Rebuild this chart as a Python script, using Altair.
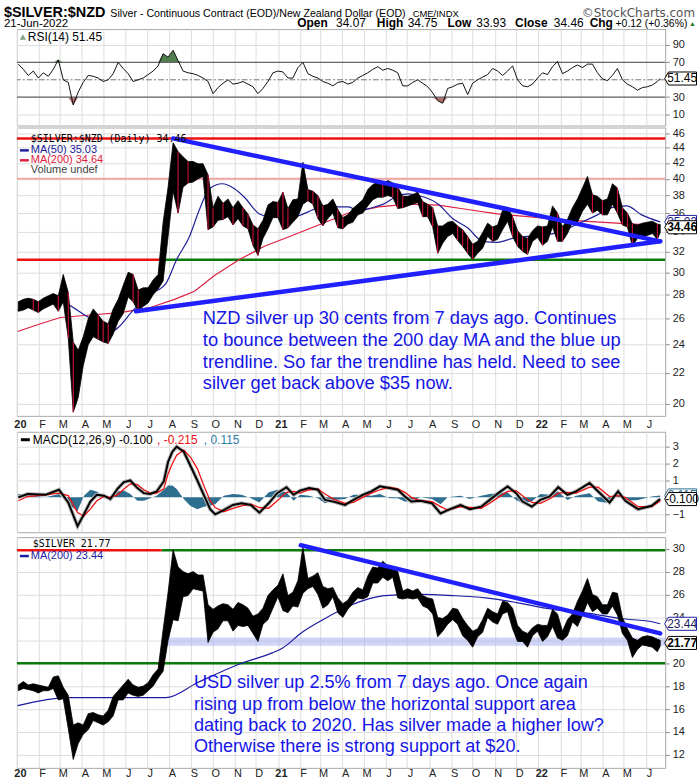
import altair as alt
import pandas as pd

W = 652
H_RSI, H_MAIN, H_MACD, H_USD = 97, 290, 101, 232
FONT = "Liberation Sans"
MONO = "DejaVu Sans Mono"
BLUE_TXT = "#1515e6"
TREND = "#2020ff"

# ---------------- data ----------------
week_dates = [d.strftime("%Y-%m-%d") for d in pd.date_range("2020-01-03", "2022-06-17", freq="W-FRI")] + ["2022-06-21"]

nzd_lo = [
    26.6, 26.7, 26.9, 26.7, 26.5,  26.8, 27.0, 27.2, 26.6,  27.4, 24.5, 19.5, 20.4,
    22.5, 24.0, 24.6, 24.4,  24.2, 24.1, 24.8, 25.8, 26.4,  27.8, 27.4, 26.6, 27.0,
    27.3, 28.0, 28.5, 29.2, 33.5,  38.5, 36.0, 39.0, 39.5,  39.6, 40.0, 40.3, 34.2,
    34.5, 35.2, 35.3, 35.6, 34.7,  35.4, 34.6, 34.3, 32.6,  31.6, 33.3, 34.3, 35.5,
    35.5, 34.2, 34.4, 35.0, 35.6,  37.0, 37.4, 37.0, 35.4,  34.6, 35.4, 36.0, 34.4,
    34.3, 34.8, 35.0, 35.8, 36.0,  36.8, 37.5, 37.8, 37.8,  38.0, 37.8, 36.5, 36.6,
    36.8, 37.0, 37.2, 35.6, 35.6,  34.5, 31.8, 32.8, 33.5,  33.8, 33.1, 32.5, 31.8,
    31.2, 31.8, 32.3, 33.5, 33.0,  33.2, 34.2, 35.1, 33.5,  32.5, 32.0, 31.7, 33.0, 33.4,
    32.6, 33.0, 34.5, 33.0,  33.0, 33.8, 35.0, 35.0,  36.2, 37.0, 36.0, 36.3,
    35.8, 35.8, 37.0, 36.0, 34.7,  34.5, 32.5, 33.3, 33.5,  33.6, 33.8, 33.2, 33.9,
]
nzd_hi = [
    27.4, 27.6, 27.7, 27.6, 27.4,  27.7, 27.9, 28.1, 27.9,  29.8, 28.2, 24.2, 23.6,
    24.6, 26.0, 26.8, 26.3,  25.8, 25.6, 26.8, 27.6, 28.8,  30.0, 29.8, 28.4, 28.6,
    28.6, 29.3, 29.8, 35.0, 39.0,  44.7, 43.5, 42.8, 42.2,  42.2, 41.9, 41.9, 40.5,
    36.6, 37.9, 37.1, 37.6, 36.6,  37.4, 36.6, 35.9, 34.7,  34.3, 35.2, 36.9, 37.3,
    37.2, 38.4, 36.5, 37.5, 37.6,  42.1, 38.7, 38.5, 38.0,  36.8, 37.0, 37.6, 36.4,
    35.5, 35.8, 36.5, 37.0, 37.5,  38.7, 39.3, 39.6, 39.3,  39.8, 39.5, 39.0, 37.9,
    37.9, 38.1, 38.4, 37.3, 37.0,  36.6, 34.6, 34.6, 35.0,  35.1, 34.6, 34.2, 33.5,
    32.7, 33.0, 33.9, 34.9, 34.5,  34.7, 36.3, 36.6, 35.6,  34.1, 33.5, 33.3, 34.1, 34.6,
    34.5, 34.6, 36.8, 36.0,  34.5, 35.3, 36.6, 37.6,  38.9, 40.3, 38.1, 37.9,
    37.4, 37.6, 39.4, 38.9, 36.6,  36.0, 34.8, 34.7, 34.9,  35.0, 35.1, 34.8, 34.75,
]
usd_lo = [
    17.6, 17.8, 17.7, 17.6, 17.4,  17.6, 17.6, 17.8, 16.8,  16.9, 14.3, 11.6, 13.0,
    13.8, 14.2, 15.0, 14.8,  14.6, 14.9, 15.4, 16.8, 16.8,  17.4, 17.2, 17.1, 17.2,
    17.6, 18.0, 18.7, 19.3, 22.0,  23.8, 23.7, 25.8, 25.9,  26.5, 26.4, 26.3, 21.8,
    22.7, 23.0, 23.7, 23.7, 22.8,  23.3, 23.2, 23.3, 22.6,  21.9, 23.4, 23.8, 24.8,
    25.8, 24.6, 24.4, 25.0, 24.9,  26.1, 26.5, 26.7, 26.0,  24.8, 25.1, 25.8, 24.4,
    24.0, 24.7, 25.2, 25.7, 25.6,  25.8, 27.0, 27.0, 27.5,  27.2, 27.5, 25.7, 25.6,
    25.7, 25.6, 25.7, 25.0, 24.8,  24.3, 22.3, 22.8, 23.4,  23.8, 23.4, 22.4, 22.0,
    21.4, 22.3, 22.7, 24.0, 23.6,  23.4, 24.3, 24.5, 23.0,  21.9, 21.9, 21.4, 22.4, 22.8,
    21.9, 22.3, 23.2, 22.2,  22.0, 22.4, 23.6, 23.2,  24.2, 25.3, 24.5, 24.8,
    24.3, 24.3, 25.0, 24.2, 22.6,  22.0, 20.5, 21.2, 21.6,  21.5, 21.4, 21.0, 21.5,
]
usd_hi = [
    18.1, 18.4, 18.1, 18.2, 18.1,  18.0, 17.9, 18.8, 18.9,  17.9, 17.2, 14.6, 14.8,
    14.6, 15.6, 15.7, 15.5,  15.4, 15.9, 17.1, 17.6, 18.1,  18.6, 18.1, 17.9, 18.0,
    18.3, 19.0, 19.5, 22.9, 26.2,  29.9, 28.4, 28.0, 27.8,  28.0, 27.7, 27.7, 25.1,
    24.7, 25.0, 25.2, 25.1, 24.7,  25.3, 25.1, 24.8, 24.1,  24.3, 24.8, 25.9, 26.4,
    26.8, 27.8, 25.9, 26.2, 27.2,  30.1, 27.4, 27.6, 27.9,  26.7, 26.5, 26.6, 25.7,
    25.2, 25.5, 26.2, 26.6, 26.4,  27.6, 28.4, 28.3, 28.9,  28.5, 28.2, 28.0, 26.3,
    26.5, 26.3, 26.5, 25.9, 25.7,  25.6, 24.0, 23.9, 24.2,  24.8, 24.7, 23.9, 23.3,
    22.8, 23.0, 23.8, 24.8, 24.5,  24.3, 25.4, 25.3, 24.8,  23.3, 22.8, 22.6, 23.1, 23.4,
    23.3, 23.3, 24.7, 24.3,  22.8, 23.8, 24.3, 25.4,  26.3, 27.4, 26.0, 25.8,
    25.1, 25.1, 26.2, 26.1, 24.0,  23.0, 22.2, 22.0, 22.3,  22.4, 22.3, 22.1, 22.0,
]
rsi = [
    68, 62, 55, 60, 52, 58, 54, 62, 73, 50,
    47, 21, 36, 47, 55, 54, 52, 48, 50, 57,
    70, 63, 57, 48, 50, 52, 56, 60, 66, 80,
    76, 84, 72, 60, 58, 57, 55, 52, 48, 34,
    41, 46, 50, 45, 46, 48, 45, 42, 34, 40,
    48, 58, 60, 59, 52, 52, 64, 70, 57, 54,
    52, 48, 46, 43, 47, 48, 45, 47, 52, 55,
    58, 62, 65, 61, 63, 61, 58, 43, 43, 47,
    50, 46, 42, 35, 26, 23, 40, 42, 45, 46,
    33, 46, 50, 53, 56, 63, 60, 55, 60, 66,
    50, 43, 42, 45, 52, 58, 56, 65, 71, 57,
    60, 64, 67, 64, 68, 68, 58, 51, 49, 55,
    63, 50, 45, 42, 38, 41, 42, 44, 48, 51.45,
]

ma50_dates = ["2020-01-02", "2020-02-28", "2020-04-08", "2020-05-11", "2020-06-14", "2020-07-05",
              "2020-07-28", "2020-08-12", "2020-08-30", "2020-09-13", "2020-09-27", "2020-10-15",
              "2020-11-01", "2020-11-15", "2020-12-06", "2020-12-20", "2021-01-16", "2021-01-30",
              "2021-02-20", "2021-03-06", "2021-03-27", "2021-04-10", "2021-04-24", "2021-05-08",
              "2021-05-29", "2021-06-19", "2021-07-03", "2021-07-17", "2021-08-14", "2021-09-03",
              "2021-09-24", "2021-10-15", "2021-11-05", "2021-11-26", "2021-12-17", "2022-01-07",
              "2022-01-28", "2022-02-25", "2022-03-25", "2022-04-14", "2022-05-05", "2022-05-26",
              "2022-06-21"]
ma50_vals = [26.7, 27.4, 26.2, 25.0, 26.8, 28.0, 29.0, 31.2, 33.5, 36.4, 38.8, 39.4,
             38.8, 37.8, 35.9, 35.6, 35.5, 35.7, 36.4, 36.8, 36.7, 36.7, 36.2, 36.5,
             37.0, 38.0, 38.2, 38.0, 37.0, 35.4, 34.4, 33.0, 32.9, 33.3, 33.5, 33.6,
             33.9, 34.8, 35.8, 36.6, 36.8, 35.8, 35.03]

ma200_dates = ["2020-01-02", "2020-02-03", "2020-03-02", "2020-04-13", "2020-05-25", "2020-07-05",
               "2020-08-09", "2020-09-06", "2020-10-04", "2020-11-08", "2020-12-13", "2021-01-21",
               "2021-02-27", "2021-04-10", "2021-05-22", "2021-07-03", "2021-08-14", "2021-09-24",
               "2021-11-05", "2021-12-17", "2022-01-28", "2022-03-11", "2022-04-21", "2022-06-21"]
ma200_vals = [25.0, 25.6, 26.1, 26.3, 26.5, 26.9, 27.6, 28.3, 29.7, 31.2, 32.5, 33.6,
              34.7, 36.0, 36.7, 37.0, 36.9, 36.4, 35.9, 35.6, 35.3, 35.1, 34.9, 34.64]

usd_ma_dates = ["2020-01-02", "2020-03-12", "2020-05-25", "2020-07-28", "2020-09-10", "2020-11-11",
                "2020-12-24", "2021-01-07", "2021-02-04", "2021-03-05", "2021-04-15", "2021-05-13",
                "2021-05-31", "2021-07-19", "2021-09-03", "2021-10-19", "2021-11-22", "2022-01-22",
                "2022-03-09", "2022-04-26", "2022-06-11", "2022-06-21"]
usd_ma_vals = [16.3, 17.0, 17.0, 17.0, 18.3, 20.0, 20.9, 21.3, 22.7, 23.8, 25.1, 25.7,
               25.9, 26.0, 25.9, 25.7, 25.4, 24.7, 24.4, 23.9, 23.6, 23.44]

macd_dates = ["2020-01-03", "2020-01-16", "2020-02-10", "2020-02-29", "2020-03-13", "2020-03-26",
              "2020-04-04", "2020-04-13", "2020-04-22", "2020-05-02", "2020-05-11", "2020-05-21",
              "2020-05-30", "2020-06-08", "2020-06-18", "2020-06-27", "2020-07-06", "2020-07-15",
              "2020-07-25", "2020-07-31", "2020-08-06", "2020-08-12", "2020-08-22", "2020-08-31",
              "2020-09-10", "2020-09-19", "2020-09-28", "2020-10-05", "2020-10-17", "2020-10-30",
              "2020-11-11", "2020-11-24", "2020-12-06", "2020-12-19", "2020-12-31", "2021-01-13",
              "2021-01-23", "2021-02-01", "2021-02-14", "2021-02-26", "2021-03-08", "2021-03-20",
              "2021-04-05", "2021-04-17", "2021-04-30", "2021-05-12", "2021-05-24", "2021-06-06",
              "2021-06-18", "2021-06-28", "2021-07-07", "2021-07-20", "2021-08-05", "2021-08-17",
              "2021-08-27", "2021-09-14", "2021-09-27", "2021-10-13", "2021-10-25", "2021-11-06",
              "2021-11-19", "2021-12-01", "2021-12-10", "2021-12-23", "2022-01-04", "2022-01-17",
              "2022-01-29", "2022-02-11", "2022-02-23", "2022-03-14", "2022-03-26", "2022-04-11",
              "2022-04-23", "2022-05-03", "2022-05-21", "2022-06-09", "2022-06-21"]
macd_vals = [0.00, 0.20, 0.15, 0.45, -0.30, -1.70, -1.00, -0.25, 0.15, 0.10, -0.10, 0.50,
             0.90, 1.00, 0.55, 0.25, 0.20, 0.35, 0.95, 2.10, 2.70, 3.00, 2.70, 1.90,
             1.00, 0.15, -0.70, -1.00, -0.75, -0.45, -0.35, -0.45, -0.90, -0.35, 0.25, 0.60,
             0.15, 0.40, 0.55, 0.45, -0.15, -0.25, -0.45, -0.15, 0.15, 0.35, 0.65, 0.55,
             0.45, 0.05, -0.25, -0.20, -0.35, -0.95, -0.75, -0.45, -0.70, -0.55, -0.15, 0.25,
             0.65, 0.25, -0.25, -0.55, -0.15, 0.05, 0.60, 0.15, 0.35, 0.85, 0.35, -0.30,
             0.35, -0.20, -0.70, -0.50, -0.10]
signal_vals = [-0.20, 0.05, 0.15, 0.25, 0.10, -0.90, -1.10, -0.70, -0.20, 0.05, 0.00, 0.15,
               0.50, 0.80, 0.75, 0.45, 0.25, 0.25, 0.50, 1.40, 2.00, 2.50, 2.80, 2.40,
               1.70, 0.70, -0.20, -0.60, -0.85, -0.65, -0.50, -0.40, -0.60, -0.65, -0.20, 0.30,
               0.35, 0.25, 0.45, 0.50, 0.20, -0.10, -0.35, -0.30, 0.00, 0.25, 0.45, 0.60,
               0.50, 0.30, 0.00, -0.20, -0.25, -0.55, -0.75, -0.55, -0.60, -0.65, -0.35, 0.00,
               0.35, 0.40, 0.10, -0.30, -0.35, -0.10, 0.25, 0.30, 0.25, 0.60, 0.60, 0.05,
               0.10, 0.00, -0.55, -0.55, -0.215]

# annotation lines (dates, values)
nzd_top_red = 45.3
nzd_pink = 40.0
nzd_support = 31.18
split_date = "2020-07-22"
nzd_down_trend = {"date": ["2020-08-07", "2022-06-21"], "v": [45.3, 33.0]}
nzd_up_trend = {"date": ["2020-06-16", "2022-06-21"], "v": [26.6, 33.0]}
usd_top = 29.85
usd_green = 20.0
usd_trend = {"date": ["2021-02-02", "2022-06-21"], "v": [30.3, 22.6]}
usd_band = {"d1": ["2020-07-22"], "d2": ["2022-06-28"], "lo": [21.53], "hi": [22.25]}

nzd_note = ["NZD silver up 30 cents from 7 days ago. Continues",
            "to bounce between the 200 day MA and the blue up",
            "trendline. So far the trendline has held. Need to see",
            "silver get back above $35 now."]
usd_note = ["USD silver up 2.5% from 7 days ago. Once again",
            "rising up from below the horizontal support area",
            "dating back to 2020. Has silver made a higher low?",
            "Otherwise there is strong support at $20."]

# ---------------- helpers ----------------
one = pd.DataFrame({"k": [0]})
D0 = alt.DateTime(year=2020, month=1, date=1, utc=True)
D1 = alt.DateTime(year=2022, month=6, date=28, utc=True)
x_scale = alt.Scale(type="utc", domain=[D0, D1])
month_ticks = [alt.DateTime(year=y, month=m, date=1, utc=True)
               for y in (2020, 2021, 2022) for m in range(1, 13) if not (y == 2022 and m > 6)]
LABEL_EXPR = ("utcmonth(datum.value) == 0 ? utcFormat(datum.value, '%y') : "
              "substring(utcFormat(datum.value, '%b'), 0, 1)")


def x_axis(labels, pad=4):
    if labels:
        return alt.Axis(values=month_ticks, grid=True, gridColor="#dddddd", ticks=False, tickSize=0,
                        domain=False, title=None, labelExpr=LABEL_EXPR,
                        labelFontWeight={"condition": {"test": "utcmonth(datum.value) == 0", "value": "bold"},
                                         "value": "normal"},
                        labelFont=FONT, labelFontSize=11, labelColor="#222222", labelPadding=pad,
                        labelOffset=3, labelOverlap=False, labelFlush=False, labelAngle=0)
    return alt.Axis(values=month_ticks, grid=True, gridColor="#dddddd", ticks=False, tickSize=0,
                    domain=False, labels=False, title=None)


def y_axis(values):
    return alt.Axis(orient="right", values=values, grid=True, gridColor="#dddddd", tickSize=4,
                    tickColor="#888888", domain=False, title=None, labelFont=FONT, labelFontSize=11,
                    labelColor="#222222", labelPadding=3, format="d", labelOverlap=False)


def txt(text, x, y, size=11, weight="normal", color="#000000", font=FONT, align="left",
        baseline="middle", **kw):
    return alt.Chart(one).mark_text(text=text, fontSize=size, fontWeight=weight, color=color, font=font,
                                    align=align, baseline=baseline, **kw).encode(
        x=alt.value(x), y=alt.value(y))


def dash(x1, x2, y, color, width=2.5):
    return alt.Chart(one).mark_rule(color=color, strokeWidth=width).encode(
        x=alt.value(x1), x2=alt.value(x2), y=alt.value(y))


def anchor(y=0):
    return alt.Chart(one).mark_rule(color="white", strokeWidth=1).encode(
        x=alt.value(-16), x2=alt.value(-15), y=alt.value(y))


BOX = "M-1,0L-0.76,-0.41L1,-0.41L1,0.41L-0.76,0.41Z"


def valbox(value, text, Yf, stroke="#000000", color="#000000", weight="normal"):
    d = pd.DataFrame({"v": [value]})
    b = alt.Chart(d).mark_point(shape=BOX, size=1024, filled=True, fill="white", stroke=stroke,
                                strokeWidth=1, opacity=1).encode(x=alt.value(W + 15.5), y=Yf("v"))
    t = alt.Chart(d).mark_text(text=text, fontSize=12, font=FONT, fontWeight=weight, color=color,
                               align="center", baseline="middle").encode(x=alt.value(W + 17), y=Yf("v"))
    return [b, t]


# ---------------- RSI panel (with page header above it) ----------------
ys_rsi = alt.Scale(domain=[-2.6, 108.3], nice=False, zero=False)
ya_rsi = y_axis([10, 30, 70, 90])
xa_rsi = x_axis(False)
def XR(f="date"): return alt.X(f + ":T", scale=x_scale, axis=xa_rsi)
def YR(f): return alt.Y(f + ":Q", scale=ys_rsi, axis=ya_rsi)

rsi_df = pd.DataFrame({"date": week_dates, "rsi": rsi})
rsi_up = alt.Chart(rsi_df).transform_calculate(a="max(datum.rsi, 70)", b="70").mark_area(
    color="#4f7f4f").encode(x=XR(), y=YR("a"), y2=alt.Y2("b:Q"))
rsi_dn = alt.Chart(rsi_df).transform_calculate(a="min(datum.rsi, 30)", b="30").mark_area(
    color="#b07070").encode(x=XR(), y=YR("a"), y2=alt.Y2("b:Q"))
rsi_lines = alt.Chart(pd.DataFrame({"v": [70, 30]})).mark_rule(color="#666666", strokeWidth=1.2).encode(y=YR("v"))
rsi_mid = alt.Chart(pd.DataFrame({"v": [50]})).mark_rule(color="#777777", strokeWidth=1,
                                                          strokeDash=[6, 2, 2, 2]).encode(y=YR("v"))
rsi_line = alt.Chart(rsi_df).mark_line(color="#111111", strokeWidth=1).encode(x=XR(), y=YR("rsi"))

HB = "alphabetic"
header = [
    anchor(-26),
    txt("$SILVER:$NZD", -13, -12, size=14.5, weight="bold", baseline=HB),
    txt("Silver - Continuous Contract (EOD)/New Zealand Dollar (EOD)", 94, -12, size=10.7, baseline=HB),
    txt("CME/INDX", 398, -12, size=9.5, baseline=HB),
    txt("\u00a9StockCharts.com", 682, -12, size=12, color="#555555", font="DejaVu Sans",
        align="right", baseline=HB),
    txt("21-Jun-2022", -13, -2, size=11.5, baseline=HB),
    txt("Open", 282, -2, size=12, weight="bold", baseline=HB),
    txt("34.07", 321, -2, size=12, baseline=HB),
    txt("High", 362, -2, size=12, weight="bold", baseline=HB),
    txt("34.75", 393, -2, size=12, baseline=HB),
    txt("Low", 433, -2, size=12, weight="bold", baseline=HB),
    txt("33.93", 462, -2, size=12, baseline=HB),
    txt("Close", 501, -2, size=12, weight="bold", baseline=HB),
    txt("34.46", 540, -2, size=12, baseline=HB),
    txt("Chg", 576, -2, size=12, weight="bold", baseline=HB),
    txt("+0.12 (+0.36%)", 602, -2, size=10.5, baseline=HB),
    txt("\u25b2", 676, -3, size=7, color="#2a7a2a", baseline=HB),
]
rsi_panel = alt.layer(
    rsi_up, rsi_dn, rsi_lines, rsi_mid, rsi_line,
    txt("RSI(14) 51.45", 11, 8, size=12),
    alt.Chart(one).mark_point(shape="triangle-up", filled=True, color="#4f7f4f", size=40).encode(
        x=alt.value(6), y=alt.value(8)),
    *valbox(51.45, "51.45", YR),
    *header,
).properties(width=W, height=H_RSI)

# ---------------- main NZD panel ----------------
ys_main = alt.Scale(type="log", domain=[19.28, 46.85], nice=False)
ya_main = y_axis(list(range(20, 47, 2)))
xa_main = x_axis(True, 3)
def XM(f="date"): return alt.X(f + ":T", scale=x_scale, axis=xa_main)
def YM(f): return alt.Y(f + ":Q", scale=ys_main, axis=ya_main)

nzd_df = pd.DataFrame({"date": week_dates, "lo": nzd_lo, "hi": nzd_hi})
main_pink = alt.Chart(pd.DataFrame({"v": [nzd_pink]})).mark_rule(color="#f2a6a6", strokeWidth=2).encode(y=YM("v"))
main_red = alt.Chart(pd.DataFrame({"v": [nzd_top_red]})).mark_rule(color="#ee1111", strokeWidth=2.5).encode(y=YM("v"))
sup_red = alt.Chart(pd.DataFrame({"d1": ["2020-01-01"], "d2": [split_date], "v": [nzd_support]})).mark_rule(
    color="#ee1111", strokeWidth=2.5).encode(x=XM("d1"), x2=alt.X2("d2:T"), y=YM("v"))
sup_green = alt.Chart(pd.DataFrame({"d1": [split_date], "d2": ["2022-06-28"], "v": [nzd_support]})).mark_rule(
    color="#0a7a0a", strokeWidth=2.5).encode(x=XM("d1"), x2=alt.X2("d2:T"), y=YM("v"))
ma200_line = alt.Chart(pd.DataFrame({"date": ma200_dates, "v": ma200_vals})).mark_line(
    color="#dd2040", strokeWidth=1.2).encode(x=XM(), y=YM("v"))
ma50_line = alt.Chart(pd.DataFrame({"date": ma50_dates, "v": ma50_vals})).mark_line(
    color="#20209a", strokeWidth=1.2, interpolate="monotone").encode(x=XM(), y=YM("v"))
nzd_band = alt.Chart(nzd_df).mark_area(color="#000000", stroke="#000000", strokeWidth=0.8).encode(
    x=XM(), y=YM("lo"), y2=alt.Y2("hi:Q"))
nzd_red = (alt.Chart(nzd_df)
           .transform_calculate(mid="(datum.lo + datum.hi) / 2")
           .transform_window(prev="lag(mid)", sort=[alt.SortField("date", order="ascending")])
           .transform_filter("isValid(datum.prev) && datum.mid < datum.prev")
           .mark_rule(color="#d0103a", strokeWidth=1.1)
           .encode(x=XM(), y=YM("lo"), y2=alt.Y2("hi:Q")))
down_tr = alt.Chart(pd.DataFrame(nzd_down_trend)).mark_line(color=TREND, strokeWidth=4.5, strokeCap="round").encode(
    x=XM(), y=YM("v"))
up_tr = alt.Chart(pd.DataFrame(nzd_up_trend)).mark_line(color=TREND, strokeWidth=4.5, strokeCap="round").encode(
    x=XM(), y=YM("v"))

main_panel = alt.layer(
    main_pink, main_red, sup_red, sup_green, ma200_line, ma50_line, nzd_band, nzd_red, down_tr, up_tr,
    txt("$SILVER:$NZD (Daily) 34.46", 14, 12, size=10, font=MONO),
    dash(3, 12, 23, "#20209a"), txt("MA(50) 35.03", 14, 23, size=11, color="#20209a"),
    dash(3, 12, 33, "#dd2040"), txt("MA(200) 34.64", 14, 33, size=11, color="#dd2040"),
    txt("Volume undef", 14, 43, size=11, color="#444444"),
    txt(nzd_note, 187, 183, size=18.4, color=BLUE_TXT, baseline="top", lineHeight=21.7),
    *valbox(35.03, "35.03", YM, stroke="#20209a", color="#20209a"),
    *valbox(34.46, "34.46", YM, weight="bold"),
    anchor(0),
).properties(width=W, height=H_MAIN)

# ---------------- MACD panel ----------------
ys_macd = alt.Scale(domain=[-2.06, 3.88], nice=False, zero=False)
ya_macd = y_axis([-1, 1, 2, 3])
xa_macd = x_axis(False)
def XC(f="date"): return alt.X(f + ":T", scale=x_scale, axis=xa_macd)
def YC(f): return alt.Y(f + ":Q", scale=ys_macd, axis=ya_macd)

macd_df = pd.DataFrame({"date": macd_dates, "macd": macd_vals, "sig": signal_vals})
hist = alt.Chart(macd_df).transform_calculate(h="datum.macd - datum.sig", z="0").mark_area(
    color="#2e6e8e").encode(x=XC(), y=YC("h"), y2=alt.Y2("z:Q"))
sig_line = alt.Chart(macd_df).mark_line(color="#ee1111", strokeWidth=1.3).encode(x=XC(), y=YC("sig"))
macd_halo = alt.Chart(macd_df).mark_line(color="#b8b8b8", strokeWidth=4).encode(x=XC(), y=YC("macd"))
macd_line = alt.Chart(macd_df).mark_line(color="#000000", strokeWidth=2).encode(x=XC(), y=YC("macd"))
macd_panel = alt.layer(
    hist, macd_halo, sig_line, macd_line,
    dash(4, 13, 8, "#000000", 3),
    txt("MACD(12,26,9) -0.100", 16, 8, size=12),
    txt(", -0.215", 141, 8, size=12, color="#ee1111"),
    txt(", 0.115", 188, 8, size=12, color="#2e7ea8"),
    *valbox(0.115, "0.115", YC, stroke="#2e6e8e", color="#2e6e8e"),
    *valbox(-0.100, "-0.100", YC),
    anchor(0),
).properties(width=W, height=H_MACD)

# ---------------- USD panel ----------------
ys_usd = alt.Scale(domain=[10.87, 31.0], nice=False, zero=False)
ya_usd = y_axis(list(range(12, 31, 2)))
xa_usd = x_axis(True, 0)
def XU(f="date"): return alt.X(f + ":T", scale=x_scale, axis=xa_usd)
def YU(f): return alt.Y(f + ":Q", scale=ys_usd, axis=ya_usd)

usd_df = pd.DataFrame({"date": week_dates, "lo": usd_lo, "hi": usd_hi})
band_rect = alt.Chart(pd.DataFrame(usd_band)).mark_rect(color="#aab0ee", opacity=0.55).encode(
    x=XU("d1"), x2=alt.X2("d2:T"), y=YU("lo"), y2=alt.Y2("hi:Q"))
usd_red = alt.Chart(pd.DataFrame({"d1": ["2020-01-01"], "d2": [split_date], "v": [usd_top]})).mark_rule(
    color="#ee1111", strokeWidth=2.5).encode(x=XU("d1"), x2=alt.X2("d2:T"), y=YU("v"))
usd_grn_top = alt.Chart(pd.DataFrame({"d1": [split_date], "d2": ["2022-06-28"], "v": [usd_top]})).mark_rule(
    color="#0a7a0a", strokeWidth=2.5).encode(x=XU("d1"), x2=alt.X2("d2:T"), y=YU("v"))
usd_grn = alt.Chart(pd.DataFrame({"v": [usd_green]})).mark_rule(color="#0a7a0a", strokeWidth=2.5).encode(y=YU("v"))
usd_ma = alt.Chart(pd.DataFrame({"date": usd_ma_dates, "v": usd_ma_vals})).mark_line(
    color="#1c1ca0", strokeWidth=1.2, interpolate="monotone").encode(x=XU(), y=YU("v"))
usd_band_mark = alt.Chart(usd_df).mark_area(color="#000000", stroke="#000000", strokeWidth=0.8).encode(
    x=XU(), y=YU("lo"), y2=alt.Y2("hi:Q"))
usd_tr = alt.Chart(pd.DataFrame(usd_trend)).mark_line(color=TREND, strokeWidth=4.5, strokeCap="round").encode(
    x=XU(), y=YU("v"))
usd_panel = alt.layer(
    band_rect, usd_red, usd_grn_top, usd_grn, usd_ma, usd_band_mark, usd_tr,
    txt("$SILVER 21.77", 16, 7, size=10, font=MONO),
    dash(3, 12, 19, "#1c1ca0"), txt("MA(200) 23.44", 14, 19, size=11, color="#1c1ca0"),
    txt(usd_note, 178, 138, size=18.2, color=BLUE_TXT, baseline="top", lineHeight=21.5),
    *valbox(23.44, "23.44", YU, stroke="#1c1ca0", color="#1c1c60"),
    *valbox(21.77, "21.77", YU, weight="bold"),
    anchor(0),
).properties(width=W, height=H_USD)

chart = (alt.vconcat(rsi_panel, main_panel, macd_panel, usd_panel, spacing=0)
         .resolve_scale(x="independent", y="independent")
         .properties(padding={"left": 0, "top": 0, "right": 0, "bottom": 0})
         .configure(background="white")
         .configure_view(stroke="#a8a8a8", strokeWidth=1))

chart.save("out.html", embed_options={"renderer": "svg", "actions": False})
